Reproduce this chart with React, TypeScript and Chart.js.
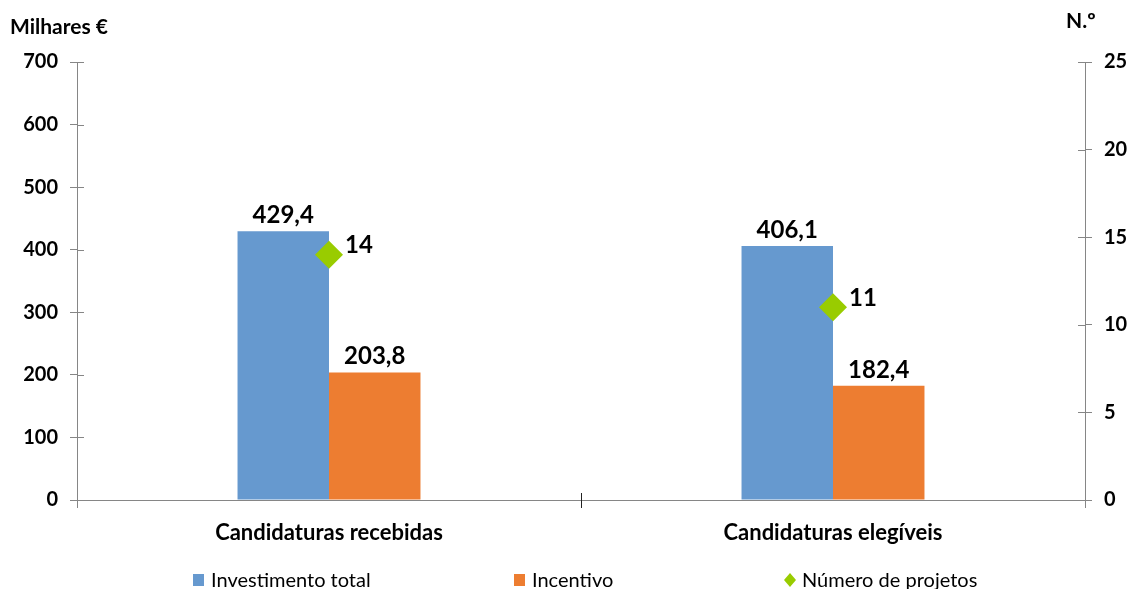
import React, { useEffect, useRef } from "react";
import { Chart, registerables } from "chart.js";

Chart.register(...registerables);

const categories = ["Candidaturas recebidas", "Candidaturas elegíveis"];
const investimentoTotal = [429.4, 406.1];
const incentivo = [203.8, 182.4];
const numeroProjetos = [14, 11];
const leftTicks = [0, 100, 200, 300, 400, 500, 600, 700];
const rightTicks = [0, 5, 10, 15, 20, 25];

const FONT = "Lato, 'Open Sans', sans-serif";
const AXIS = "#868686";
const BLUE = "#6699CF";
const ORANGE = "#ED7D31";
const GREEN = "#99CC00";

const fmt = (v: number) => v.toFixed(1).replace(".", ",");

const extrasPlugin = {
  id: "extras",
  afterDraw(chart: any) {
    const ctx = chart.ctx;
    const area = chart.chartArea;
    const y = chart.scales.y;
    const y1 = chart.scales.y1;
    ctx.save();
    // inner tick halves
    ctx.strokeStyle = AXIS;
    ctx.lineWidth = 1;
    y.ticks.forEach((t: any) => {
      const py = Math.round(y.getPixelForValue(t.value)) + 0.5;
      ctx.beginPath();
      ctx.moveTo(area.left, py);
      ctx.lineTo(area.left + 7, py);
      ctx.stroke();
    });
    y1.ticks.forEach((t: any) => {
      const py = Math.round(y1.getPixelForValue(t.value)) + 0.5;
      ctx.beginPath();
      ctx.moveTo(area.right - 7, py);
      ctx.lineTo(area.right, py);
      ctx.stroke();
    });
    // middle category separator
    const mid = Math.round((area.left + area.right) / 2) + 0.5;
    ctx.strokeStyle = "#222";
    ctx.beginPath();
    ctx.moveTo(mid, area.bottom - 7);
    ctx.lineTo(mid, area.bottom + 8);
    ctx.stroke();

    // axis titles
    ctx.fillStyle = "#000";
    ctx.font = `bold 21px ${FONT}`;
    ctx.textBaseline = "middle";
    ctx.textAlign = "left";
    ctx.fillText("Milhares €", 10, 27);
    ctx.fillText("N.º", 1066, 21);

    // data labels
    ctx.font = `bold 24px ${FONT}`;
    ctx.textAlign = "center";
    ctx.textBaseline = "bottom";
    [0, 1].forEach((di) => {
      const meta = chart.getDatasetMeta(di);
      const data = chart.data.datasets[di].data as number[];
      meta.data.forEach((el: any, i: number) => {
        ctx.fillText(fmt(data[i]), el.x, el.y - 4);
      });
    });
    const pm = chart.getDatasetMeta(2);
    ctx.textAlign = "left";
    ctx.textBaseline = "middle";
    pm.data.forEach((el: any, i: number) => {
      ctx.fillText(String(numeroProjetos[i]), el.x + 16, el.y - 9);
    });

    // legend
    const base = 587;
    ctx.font = `20px ${FONT}`;
    ctx.textBaseline = "alphabetic";
    const items = [
      { label: "Investimento total", color: BLUE, kind: "sq", x: 193 },
      { label: "Incentivo", color: ORANGE, kind: "sq", x: 514 },
      { label: "Número de projetos", color: GREEN, kind: "dm", x: 784 },
    ];
    items.forEach((it) => {
      ctx.fillStyle = it.color;
      if (it.kind === "sq") {
        ctx.fillRect(it.x, base - 13, 11, 12);
      } else {
        ctx.beginPath();
        ctx.moveTo(it.x + 6, base - 14);
        ctx.lineTo(it.x + 12, base - 7);
        ctx.lineTo(it.x + 6, base);
        ctx.lineTo(it.x, base - 7);
        ctx.closePath();
        ctx.fill();
      }
      ctx.fillStyle = "#000";
      ctx.fillText(it.label, it.x + 18, base);
    });
    ctx.restore();
  },
};

export default function App() {
  const ref = useRef<HTMLCanvasElement | null>(null);
  useEffect(() => {
    if (!ref.current) return;
    const chart = new Chart(ref.current, {
      type: "bar",
      data: {
        labels: categories,
        datasets: [
          {
            type: "bar",
            label: "Investimento total",
            data: investimentoTotal,
            backgroundColor: BLUE,
            yAxisID: "y",
            categoryPercentage: 0.363,
            barPercentage: 1,
            order: 2,
          },
          {
            type: "bar",
            label: "Incentivo",
            data: incentivo,
            backgroundColor: ORANGE,
            yAxisID: "y",
            categoryPercentage: 0.363,
            barPercentage: 1,
            order: 2,
          },
          {
            type: "line",
            label: "Número de projetos",
            data: numeroProjetos,
            yAxisID: "y1",
            showLine: false,
            pointStyle: "rectRot",
            pointRadius: 14,
            backgroundColor: GREEN,
            borderColor: GREEN,
            borderWidth: 0,
            order: 1,
          } as any,
        ],
      },
      options: {
        responsive: false,
        animation: false,
        layout: { padding: { top: 62, left: 0, right: 0, bottom: 0 } },
        plugins: { legend: { display: false }, tooltip: { enabled: false } },
        scales: {
          x: {
            offset: true,
            border: { color: AXIS, width: 1 },
            grid: {
              offset: true,
              drawOnChartArea: false,
              drawTicks: true,
              tickLength: 8,
              color: AXIS,
            },
            ticks: {
              color: "#000",
              padding: 12,
              font: { family: FONT, size: 22, weight: "bold" },
            },
            afterFit: (s: any) => {
              s.height = 89;
            },
          },
          y: {
            position: "left",
            min: 0,
            max: 700,
            afterBuildTicks: (s: any) => {
              s.ticks = leftTicks.map((v) => ({ value: v }));
            },
            border: { color: AXIS, width: 1 },
            grid: { drawOnChartArea: false, tickLength: 7, color: AXIS },
            ticks: {
              color: "#000",
              padding: 12,
              font: { family: FONT, size: 20, weight: "bold" },
            },
            afterFit: (s: any) => {
              s.width = 77;
            },
          },
          y1: {
            position: "right",
            min: 0,
            max: 25,
            afterBuildTicks: (s: any) => {
              s.ticks = rightTicks.map((v) => ({ value: v }));
            },
            border: { color: AXIS, width: 1 },
            grid: { drawOnChartArea: false, tickLength: 7, color: AXIS },
            ticks: {
              color: "#000",
              padding: 12,
              font: { family: FONT, size: 20, weight: "bold" },
            },
            afterFit: (s: any) => {
              s.width = 45;
            },
          },
        },
      },
      plugins: [extrasPlugin],
    });
    return () => chart.destroy();
  }, []);
  return (
    <div style={{ position: "fixed", left: 0, top: 0, width: 1130, height: 589, background: "#fff" }}>
      <canvas ref={ref} width={1130} height={589} style={{ display: "block" }} />
    </div>
  );
}
